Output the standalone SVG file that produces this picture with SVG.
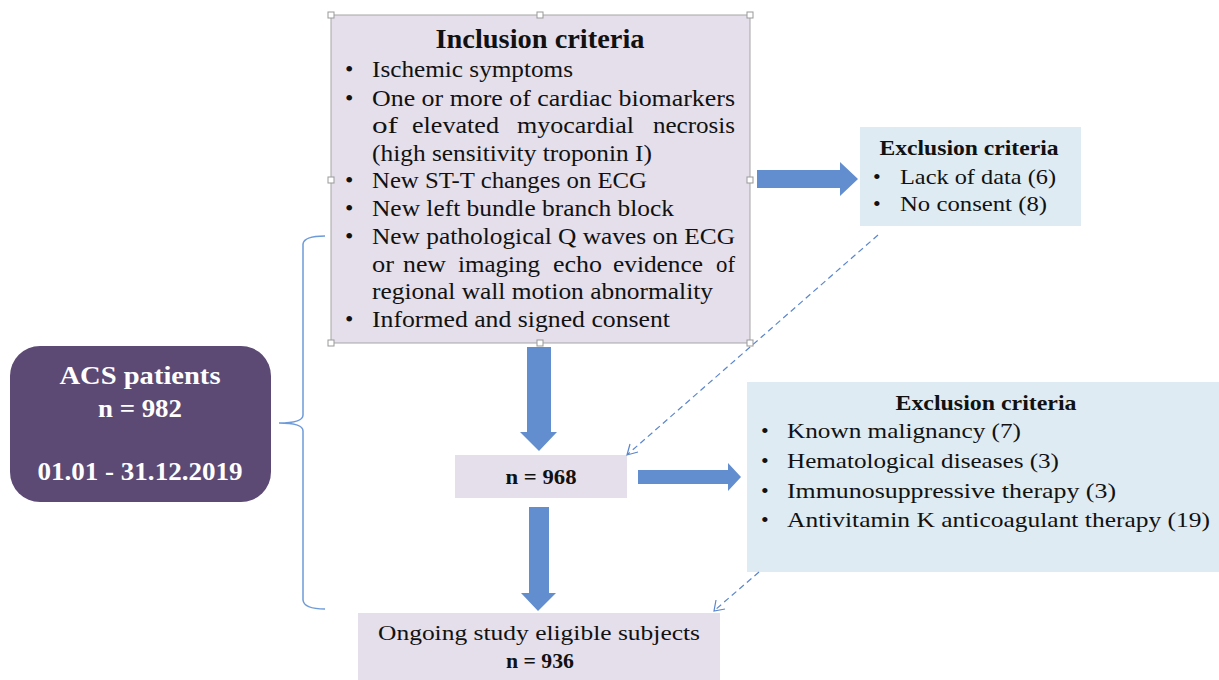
<svg xmlns="http://www.w3.org/2000/svg" width="1219" height="680" viewBox="0 0 1219 680">
<defs>
<style>
.t{font-family:"Liberation Serif","Times New Roman",serif;fill:#111;}
.b{font-weight:bold;}
.inc{font-size:24px;}
.exc{font-size:22px;}
.w{fill:#fff;}
.blk{fill:#628dcf;}
.dash{fill:none;stroke:#5b86cc;stroke-width:1.2;stroke-dasharray:6,4;}
.hd{fill:none;stroke:#5b86cc;stroke-width:1.2;}
.hnd{fill:#fff;stroke:#999;stroke-width:1;}
</style>
</defs>
<rect width="1219" height="680" fill="#fff"/>

<g id="acs">
<rect x="10" y="346" width="261" height="156" rx="30" fill="#5c4a75"/>
<text class="t b w" x="140" y="384" font-size="26" text-anchor="middle" textLength="161" lengthAdjust="spacingAndGlyphs">ACS patients</text>
<text class="t b w" x="140" y="417" font-size="26" text-anchor="middle" textLength="84" lengthAdjust="spacingAndGlyphs">n = 982</text>
<text class="t b w" x="140" y="480" font-size="26" text-anchor="middle" textLength="205" lengthAdjust="spacingAndGlyphs">01.01 - 31.12.2019</text>
</g>

<g id="brace">
<path d="M325,236 Q304,236 303,244 L303,415 Q303,423 279,423 Q303,423 303,431 L303,600 Q304,609 325,609" fill="none" stroke="#6d9ad8" stroke-width="1.5"/>
</g>

<g id="inclusion">
<rect x="331" y="15" width="419" height="328" fill="#e4dfeb" stroke="#a6a6a6" stroke-width="1"/>
<text class="t b" x="540" y="48" font-size="26.5" text-anchor="middle" textLength="209" lengthAdjust="spacingAndGlyphs">Inclusion criteria</text>
<g class="t inc">
<text x="345" y="77">•</text><text x="372" y="77" textLength="201" lengthAdjust="spacingAndGlyphs">Ischemic symptoms</text>
<text x="345" y="106">•</text><text x="372" y="106" textLength="363" lengthAdjust="spacingAndGlyphs">One or more of  cardiac biomarkers</text>
<text x="372" y="133" textLength="26" lengthAdjust="spacingAndGlyphs">of</text>
<text x="412" y="133" textLength="87" lengthAdjust="spacingAndGlyphs">elevated</text>
<text x="517" y="133" textLength="117" lengthAdjust="spacingAndGlyphs">myocardial</text>
<text x="653" y="133" textLength="82" lengthAdjust="spacingAndGlyphs">necrosis</text>
<text x="372" y="161" textLength="280" lengthAdjust="spacingAndGlyphs">(high sensitivity troponin I)</text>
<text x="345" y="188">•</text><text x="372" y="188" textLength="275" lengthAdjust="spacingAndGlyphs">New ST-T changes on ECG</text>
<text x="345" y="216">•</text><text x="372" y="216" textLength="302" lengthAdjust="spacingAndGlyphs">New left bundle branch block</text>
<text x="345" y="244">•</text><text x="372" y="244" textLength="363" lengthAdjust="spacingAndGlyphs">New pathological Q waves on ECG</text>
<text x="372" y="272" textLength="22" lengthAdjust="spacingAndGlyphs">or</text>
<text x="403" y="272" textLength="43" lengthAdjust="spacingAndGlyphs">new</text>
<text x="458" y="272" textLength="82" lengthAdjust="spacingAndGlyphs">imaging</text>
<text x="553" y="272" textLength="49" lengthAdjust="spacingAndGlyphs">echo</text>
<text x="613" y="272" textLength="90" lengthAdjust="spacingAndGlyphs">evidence</text>
<text x="716" y="272" textLength="19" lengthAdjust="spacingAndGlyphs">of</text>
<text x="372" y="299" textLength="341" lengthAdjust="spacingAndGlyphs">regional wall motion abnormality</text>
<text x="345" y="327">•</text><text x="372" y="327" textLength="298" lengthAdjust="spacingAndGlyphs">Informed and signed consent</text>
</g>
<rect class="hnd" x="328" y="12" width="6" height="6"/>
<rect class="hnd" x="537" y="12" width="6" height="6"/>
<rect class="hnd" x="747" y="12" width="6" height="6"/>
<rect class="hnd" x="328" y="177" width="6" height="6"/>
<rect class="hnd" x="747" y="177" width="6" height="6"/>
<rect class="hnd" x="328" y="340" width="6" height="6"/>
<rect class="hnd" x="537" y="340" width="6" height="6"/>
<rect class="hnd" x="747" y="340" width="6" height="6"/>
</g>

<g id="exclusion1">
<rect x="860" y="127" width="221" height="99" fill="#deebf2"/>
<text class="t b exc" x="969" y="155" text-anchor="middle" textLength="179" lengthAdjust="spacingAndGlyphs">Exclusion criteria</text>
<text class="t exc" x="873" y="184">•</text><text class="t exc" x="900" y="184" textLength="156" lengthAdjust="spacingAndGlyphs">Lack of data (6)</text>
<text class="t exc" x="873" y="211">•</text><text class="t exc" x="900" y="211" textLength="147" lengthAdjust="spacingAndGlyphs">No consent (8)</text>
</g>

<g id="n968">
<rect x="455" y="455" width="172" height="43" fill="#e4dfeb"/>
<text class="t b" x="541" y="484" font-size="22" text-anchor="middle" textLength="71" lengthAdjust="spacingAndGlyphs">n = 968</text>
</g>

<g id="exclusion2">
<rect x="747" y="382" width="472" height="190" fill="#deebf2"/>
<text class="t b exc" x="986" y="410" text-anchor="middle" textLength="181" lengthAdjust="spacingAndGlyphs">Exclusion criteria</text>
<text class="t exc" x="761" y="438">•</text><text class="t exc" x="787" y="438" textLength="234" lengthAdjust="spacingAndGlyphs">Known malignancy (7)</text>
<text class="t exc" x="761" y="468">•</text><text class="t exc" x="787" y="468" textLength="272" lengthAdjust="spacingAndGlyphs">Hematological diseases (3)</text>
<text class="t exc" x="761" y="498">•</text><text class="t exc" x="787" y="498" textLength="329" lengthAdjust="spacingAndGlyphs">Immunosuppressive therapy (3)</text>
<text class="t exc" x="761" y="527">•</text><text class="t exc" x="787" y="527" textLength="423" lengthAdjust="spacingAndGlyphs">Antivitamin K anticoagulant therapy (19)</text>
</g>

<g id="final">
<rect x="358" y="613" width="362" height="67" fill="#e4dfeb"/>
<text class="t" x="539" y="640" font-size="22" text-anchor="middle" textLength="322" lengthAdjust="spacingAndGlyphs">Ongoing study eligible subjects</text>
<text class="t b" x="540" y="668" font-size="22" text-anchor="middle" textLength="68" lengthAdjust="spacingAndGlyphs">n = 936</text>
</g>

<g id="connectors">
<path class="blk" d="M757,170 L840,170 L840,162 L858,179 L840,196 L840,188 L757,188 Z"/>
<path class="blk" d="M527,347 L551,347 L551,432 L557,432 L539,451 L520,432 L527,432 Z"/>
<path class="blk" d="M638,470 L728,470 L728,463 L741,477 L728,491 L728,484 L638,484 Z"/>
<path class="blk" d="M529,507 L549,507 L549,593 L556,593 L538,611 L521,593 L529,593 Z"/>
<path class="dash" d="M878,235 L628,454"/>
<path class="hd" d="M630,444 L627,455 L638,452"/>
<path class="dash" d="M759,572 L715,610"/>
<path class="hd" d="M716,600 L714,611 L725,609"/>
</g>
</svg>
